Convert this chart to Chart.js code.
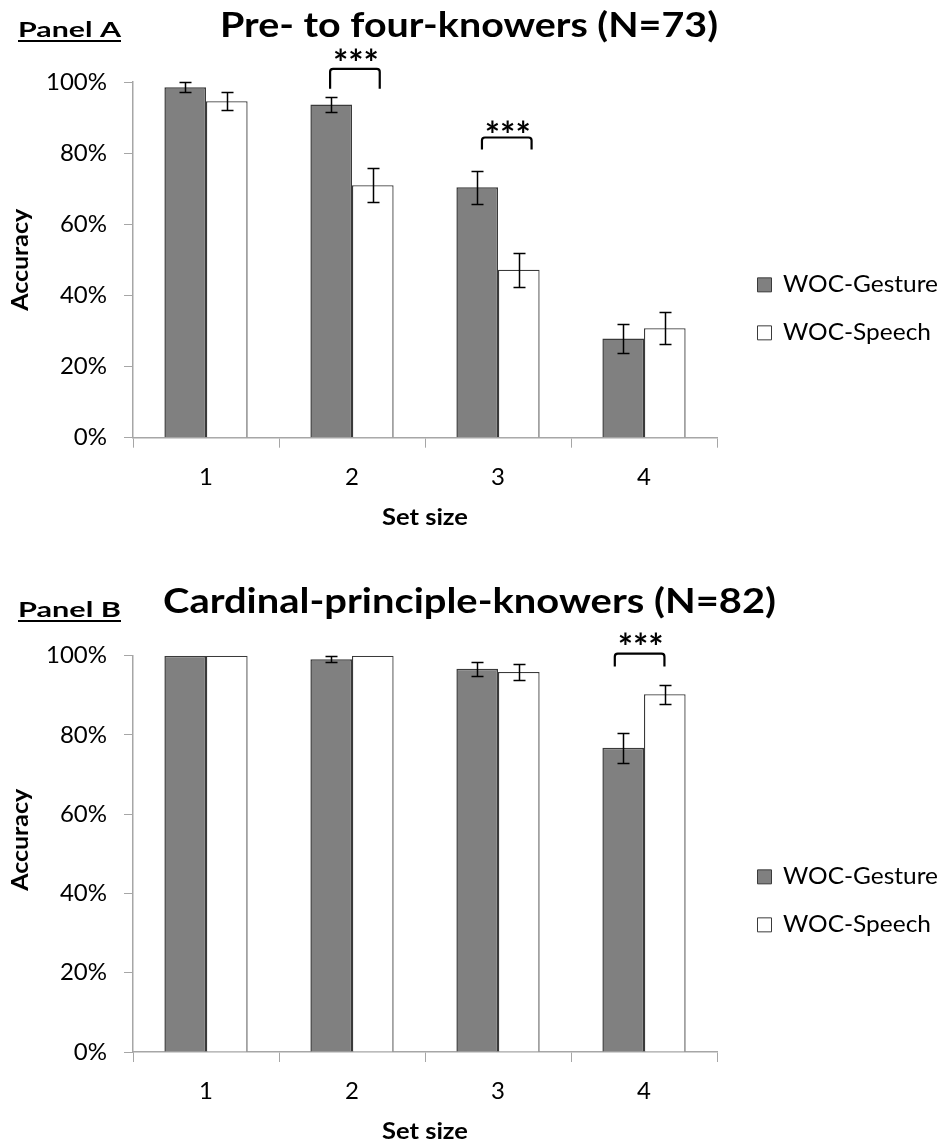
<!DOCTYPE html>
<html>
<head>
<meta charset="utf-8">
<script src="https://cdn.jsdelivr.net/npm/chart.js@4.4.0/dist/chart.umd.min.js"></script>
<style>
  body { margin: 0; background: #fff; }
  #wrap { position: relative; width: 943px; height: 1145px; }
  canvas { position: absolute; left: 0; }
  #chartA { top: 0; }
  #chartB { top: 572px; }
</style>
</head>
<body>
<div id="wrap">
  <canvas id="chartA" width="943" height="572"></canvas>
  <canvas id="chartB" width="943" height="573"></canvas>
</div>
<script>
// Data (accuracy in %)
const setSizes = ["1", "2", "3", "4"];
const seriesNames = ["WOC-Gesture", "WOC-Speech"];
const yTicks = [0, 20, 40, 60, 80, 100];

// Panel A: pre- to four-knowers
const gestureA = [98.5, 93.7, 70.4, 27.9];
const gestureErrA = [1.4, 2.1, 4.6, 4.2];
const speechA = [94.6, 71.0, 47.2, 30.8];
const speechErrA = [2.5, 4.7, 4.7, 4.4];
const starsA = [1, 2]; // categories marked ***

// Panel B: cardinal-principle-knowers
const gestureB = [100, 99.1, 96.7, 76.8];
const gestureErrB = [0, 0.8, 1.7, 3.8];
const speechB = [100, 100, 95.9, 90.3];
const speechErrB = [0, 0, 1.95, 2.4];
const starsB = [3];

const FONT = "Lato, 'Open Sans', sans-serif";
const gestureFill = "#808080";
const darkLine = "#3a3a3a";
const axisGrey = "#a6a6a6";

// Draw text squeezed/stretched to a given width
function fitText(ctx, text, x, y, width) {
  const w = ctx.measureText(text).width;
  ctx.save();
  ctx.translate(x, y);
  ctx.scale(width / w, 1);
  ctx.textAlign = "left";
  ctx.fillText(text, 0, 0);
  ctx.restore();
}

// Decorations: error bars, brackets, titles, legend
const decorPlugin = {
  id: "decor",
  afterDatasetsDraw(chart, args, o) {
    const ctx = chart.ctx;
    const y = chart.scales.y;
    ctx.save();
    ctx.strokeStyle = "#000";
    ctx.lineWidth = 1.5;
    chart.data.datasets.forEach((ds, i) => {
      const meta = chart.getDatasetMeta(i);
      meta.data.forEach((bar, j) => {
        const err = ds.errors[j];
        if (!err) return;
        const y1 = Math.round(y.getPixelForValue(ds.data[j] + err)) + 0.5;
        const y2 = Math.round(y.getPixelForValue(ds.data[j] - err)) + 0.5;
        const x = Math.round(bar.x) + 0.5;
        ctx.beginPath();
        ctx.moveTo(x, y1); ctx.lineTo(x, y2);
        ctx.moveTo(x - 6, y1); ctx.lineTo(x + 6, y1);
        ctx.moveTo(x - 6, y2); ctx.lineTo(x + 6, y2);
        ctx.stroke();
      });
    });
    ctx.restore();
  },
  afterDraw(chart, args, o) {
    const ctx = chart.ctx;
    const xs = chart.scales.x;
    const ys = chart.scales.y;
    const area = chart.chartArea;
    const step = xs.getPixelForValue(1) - xs.getPixelForValue(0);
    ctx.save();
    ctx.fillStyle = "#000";

    // significance brackets
    o.brackets.forEach(b => {
      const c = xs.getPixelForValue(b.cat);
      const x1 = c + b.from * step;
      const x2 = c + b.to * step;
      const yTop = ys.getPixelForValue(b.top);
      const yLeg = ys.getPixelForValue(b.leg);
      ctx.strokeStyle = "#000";
      ctx.lineWidth = 2.2;
      ctx.lineJoin = "round";
      ctx.beginPath();
      ctx.moveTo(x1, yLeg);
      ctx.lineTo(x1, yTop + 3);
      ctx.quadraticCurveTo(x1, yTop, x1 + 3, yTop);
      ctx.lineTo(x2 - 3, yTop);
      ctx.quadraticCurveTo(x2, yTop, x2, yTop + 3);
      ctx.lineTo(x2, yLeg);
      ctx.stroke();
      ctx.font = "bold 36px " + FONT;
      const m = ctx.measureText("***");
      const cy = yTop - b.starGap;
      const base = cy + (m.actualBoundingBoxAscent - m.actualBoundingBoxDescent) / 2;
      ctx.textAlign = "center";
      ctx.fillText("***", (x1 + x2) / 2 + 1, base);
    });

    // panel label, underlined
    ctx.font = "bold 21px " + FONT;
    ctx.textBaseline = "alphabetic";
    fitText(ctx, o.panel, 18, o.panelBase, 103);
    ctx.fillRect(18, o.panelBase + 3, 103, 2);

    // title
    ctx.font = "bold 34px " + FONT;
    fitText(ctx, o.title, o.titleX, o.titleBase, o.titleW);

    // axis titles
    ctx.font = "bold 22px " + FONT;
    const cx = (area.left + area.right) / 2;
    fitText(ctx, "Set size", cx - 43, o.xTitleBase, 86);
    ctx.save();
    ctx.translate(28, (area.top + area.bottom) / 2 + o.yTitleShift);
    ctx.rotate(-Math.PI / 2);
    fitText(ctx, "Accuracy", -51, 0, 102);
    ctx.restore();

    // legend
    ctx.font = "23px " + FONT;
    ctx.textBaseline = "middle";
    const lc = (area.top + area.bottom) / 2 + o.legendShift;
    chart.data.datasets.forEach((ds, i) => {
      const ly = lc - 24 + i * 48;
      ctx.fillStyle = ds.backgroundColor;
      ctx.fillRect(757.5, ly - 7, 14, 14);
      ctx.strokeStyle = darkLine;
      ctx.lineWidth = 1;
      ctx.strokeRect(757.5, ly - 7, 14, 14);
      ctx.fillStyle = "#000";
      fitText(ctx, ds.label, 783, ly, i === 0 ? 155 : 148);
    });
    ctx.restore();
  }
};

function makeChart(id, height, top, bottom, gesture, gErr, speech, sErr, opts) {
  const ctx = document.getElementById(id).getContext("2d");
  return new Chart(ctx, {
    type: "bar",
    data: {
      labels: setSizes,
      datasets: [
        {
          label: seriesNames[0],
          data: gesture,
          errors: gErr,
          backgroundColor: gestureFill,
          borderColor: darkLine,
          borderWidth: 1.5,
        },
        {
          label: seriesNames[1],
          data: speech,
          errors: sErr,
          backgroundColor: "#ffffff",
          borderColor: darkLine,
          borderWidth: 1.3,
        },
      ],
    },
    options: {
      responsive: false,
      animation: false,
      categoryPercentage: 0.57,
      barPercentage: 1.0,
      layout: { padding: { top: top, right: 943 - 717, left: 0, bottom: 0 } },
      plugins: {
        legend: { display: false },
        tooltip: { enabled: false },
        decor: opts,
      },
      scales: {
        x: {
          afterFit: s => { s.height = height - bottom; },
          grid: {
            offset: true,
            drawOnChartArea: false,
            tickLength: 10,
            color: axisGrey,
          },
          border: { color: axisGrey, width: 1.5 },
          ticks: { color: "#000", padding: 15, font: { family: FONT, size: 24 } },
        },
        y: {
          min: 0,
          max: 100,
          afterFit: s => { s.width = 133; },
          afterBuildTicks: s => { s.ticks = yTicks.map(v => ({ value: v })); },
          grid: {
            drawOnChartArea: false,
            tickLength: 9,
            color: axisGrey,
          },
          border: { color: axisGrey, width: 1.5 },
          ticks: {
            color: "#000",
            padding: 17,
            font: { family: FONT, size: 24 },
            callback: v => v + "%",
          },
        },
      },
    },
    plugins: [decorPlugin],
  });
}

makeChart("chartA", 572, 82, 437.7, gestureA, gestureErrA, speechA, speechErrA, {
  panel: "Panel A", panelBase: 37,
  title: "Pre- to four-knowers (N=73)", titleX: 220, titleW: 498, titleBase: 37,
  xTitleBase: 525, yTitleShift: 0, legendShift: 49,
  brackets: starsA.map((c, k) => k === 0
    ? { cat: c, from: -0.15, to: 0.19, top: 103.7, leg: 98.1, starGap: 14 }
    : { cat: c, from: -0.11, to: 0.23, top: 84.4, leg: 81.0, starGap: 11 }),
});

makeChart("chartB", 573, 655.7 - 572, 1052 - 572, gestureB, gestureErrB, speechB, speechErrB, {
  panel: "Panel B", panelBase: 45,
  title: "Cardinal-principle-knowers (N=82)", titleX: 163, titleW: 613, titleBase: 41,
  xTitleBase: 567, yTitleShift: -14, legendShift: 47,
  brackets: starsB.map(c => ({ cat: c, from: -0.2, to: 0.14, top: 100.5, leg: 97.3, starGap: 15 })),
});
</script>
</body>
</html>
